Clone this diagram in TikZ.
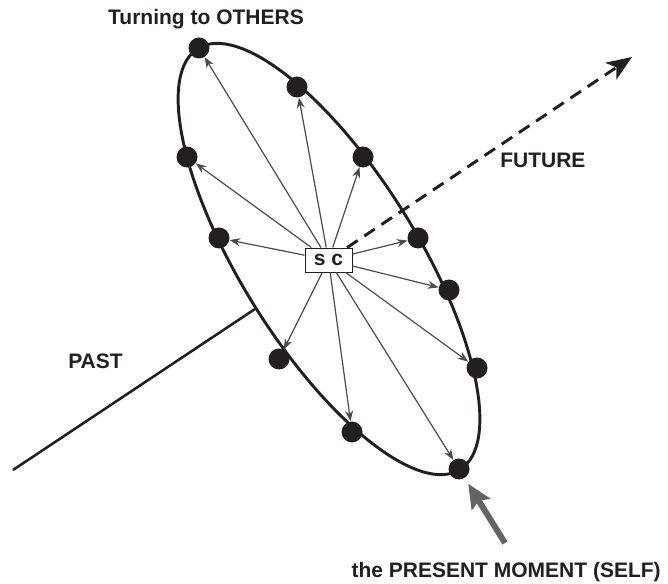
\documentclass[tikz,border=0pt]{standalone}
\usepackage{fontspec}
\setmainfont{Liberation Sans}
\usetikzlibrary{arrows.meta}
\definecolor{Cink}{RGB}{35,31,32}
\definecolor{Cray}{RGB}{75,75,75}
\definecolor{Cself}{RGB}{100,100,100}
\tikzset{
  dot/.style={circle,fill=Cink,inner sep=0pt,minimum size=15.75pt},
  ray/.style={Cray,line width=0.9pt,-{Stealth[length=8pt,width=6pt]}},
  lbl/.style={Cink,inner sep=0pt,font=\fontsize{15.75}{18}\selectfont\bfseries},
}
\begin{document}
\begin{tikzpicture}[x=0.75pt,y=-0.75pt]
    \useasboundingbox (0,0) rectangle (668,584);
    \draw[Cink,line width=2.2pt,shift={(329,259)},rotate=-58.1]
      (0,0) ellipse [x radius=248, y radius=88];
    \coordinate (pastA) at (255,309);
    \coordinate (pastB) at (13,470);
    \draw[Cink,line width=1.9pt] (pastA) -- (pastB);
    \foreach \n/\px/\py in {1/199/48,2/297/87,3/187/157,4/363/157,
        5/219/238,6/418/238,7/449/290,8/477/368,9/459/469,
        10/279/359,11/352/432}{
      \node[dot] (o\n) at (\px,\py) {};
    }
    \node[lbl,draw=Cink,fill=white,line width=0.7pt,
      minimum width=35.25pt,minimum height=18pt] (sc) at (328.5,260) {s c};
    \foreach \n in {1,...,11}{
      \draw[ray] (sc) -- (o\n);
    }
    \coordinate (fut) at (632,57);
    \draw[Cink,line width=2.2pt,dash pattern=on 9.5pt off 6pt,
      -{Stealth[length=19pt,width=15pt,inset=5pt]}] (sc) -- (fut);
    \coordinate (selfT) at (505,543);
    \draw[Cself,line width=4.5pt,shorten >=5pt,
      -{Stealth[length=18pt,width=16pt,inset=3pt]}] (selfT) -- (o9);
    \node[lbl,anchor=base] (others) at (206,25) {Turning to OTHERS};
    \node[lbl,anchor=base west] (future) at (500,168) {FUTURE};
    \node[lbl,anchor=base west] (past) at (68,369) {PAST};
    \node[lbl,anchor=base east] (present) at (661,577)
      {the PRESENT MOMENT (SELF)};
\end{tikzpicture}
\end{document}
